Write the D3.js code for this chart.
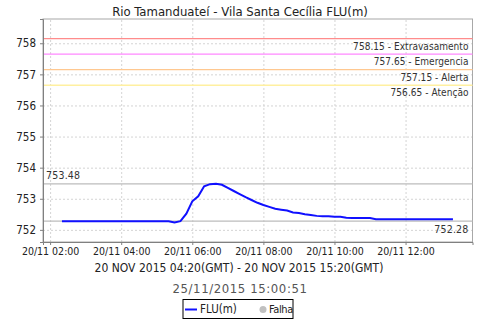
<!DOCTYPE html>
<meta charset="utf-8" />
<head>
  <style>
    body {
      margin: 0;
      background: #fff;
    }
    svg text {
      font-family: "DejaVu Sans Condensed", "DejaVu Sans", sans-serif;
    }
    .grid line {
      stroke: #d4d4d4;
      stroke-dasharray: 2, 2;
    }
    .grid .domain {
      display: none;
    }
  </style>
</head>
<script src="https://d3js.org/d3.v7.min.js"></script>
<body>
  <div id="chart"></div>
  <script>
    // FLU(m) readings every 10 minutes, local time on 20/11/2015
    const times = [
      "02:20", "02:30", "02:40", "02:50", "03:00", "03:10", "03:20", "03:30",
      "03:40", "03:50", "04:00", "04:10", "04:20", "04:30", "04:40", "04:50",
      "05:00", "05:10", "05:20", "05:30", "05:40", "05:50", "06:00", "06:10",
      "06:20", "06:30", "06:40", "06:50", "07:00", "07:10", "07:20", "07:30",
      "07:40", "07:50", "08:00", "08:10", "08:20", "08:30", "08:40", "08:50",
      "09:00", "09:10", "09:20", "09:30", "09:40", "09:50", "10:00", "10:10",
      "10:20", "10:30", "10:40", "10:50", "11:00", "11:10", "11:20", "11:30",
      "11:40", "11:50", "12:00", "12:10", "12:20", "12:30", "12:40", "12:50",
      "13:00", "13:10", "13:20",
    ];
    const levels = [
      752.28, 752.28, 752.28, 752.28, 752.28, 752.28, 752.28, 752.28,
      752.28, 752.28, 752.28, 752.28, 752.28, 752.28, 752.28, 752.28,
      752.28, 752.28, 752.28, 752.24, 752.28, 752.52, 752.92, 753.08,
      753.40, 753.47, 753.48, 753.45, 753.35, 753.25, 753.15, 753.05,
      752.96, 752.87, 752.80, 752.74, 752.68, 752.65, 752.62, 752.56,
      752.54, 752.50, 752.48, 752.45, 752.44, 752.44, 752.42, 752.42,
      752.39, 752.38, 752.38, 752.38, 752.38, 752.34, 752.34, 752.34,
      752.34, 752.34, 752.34, 752.34, 752.34, 752.34, 752.34, 752.34,
      752.34, 752.34, 752.34,
    ];

    // alert thresholds
    const thresholdValues = [758.15, 757.65, 757.15, 756.65];
    const thresholdNames = ["Extravasamento", "Emergencia", "Alerta", "Atenção"];
    const thresholdColors = ["#ff8c8c", "#ff88ff", "#ffc890", "#fff0a0"];

    // max / min markers
    const maxMark = 753.48;
    const minMark = 752.28;

    const yTicks = [752, 753, 754, 755, 756, 757, 758];

    const title = "Rio Tamanduateí - Vila Santa Cecília FLU(m)";
    const subtitle = "20 NOV 2015 04:20(GMT) - 20 NOV 2015 15:20(GMT)";
    const stamp = "25/11/2015 15:00:51";

    ////////////////////////////////////
    ///////////// SVG Setup ////////////
    ////////////////////////////////////

    const svgWidth = 480;
    const svgHeight = 320;
    const plot = { left: 43, right: 472.5, top: 19, bottom: 242 };

    const svg = d3
      .select("#chart")
      .append("svg")
      .attr("width", svgWidth)
      .attr("height", svgHeight);

    const parse = d3.timeParse("%Y-%m-%d %H:%M");
    const day = (t) => parse("2015-11-20 " + t);
    const data = times.map((t, i) => ({ date: day(t), value: levels[i] }));

    ////////////////////////////////////
    ///////////// Scales ///////////////
    ////////////////////////////////////

    const x = d3
      .scaleTime()
      .domain([day("01:48"), day("13:53")])
      .range([plot.left, plot.right]);

    const y = d3
      .scaleLinear()
      .domain([751.61, 758.78])
      .range([plot.bottom, plot.top]);

    const xTickValues = d3.timeHour.every(2).range(day("01:48"), day("13:53"));

    // gridlines
    svg
      .append("g")
      .attr("class", "grid")
      .attr("transform", `translate(0,${plot.bottom})`)
      .call(
        d3
          .axisBottom(x)
          .tickValues(xTickValues)
          .tickSize(-(plot.bottom - plot.top))
          .tickFormat("")
      );
    svg
      .append("g")
      .attr("class", "grid")
      .attr("transform", `translate(${plot.left},0)`)
      .call(
        d3
          .axisLeft(y)
          .tickValues(yTicks)
          .tickSize(-(plot.right - plot.left))
          .tickFormat("")
      );

    // plot border
    svg
      .append("rect")
      .attr("x", plot.left)
      .attr("y", plot.top)
      .attr("width", plot.right - plot.left)
      .attr("height", plot.bottom - plot.top)
      .attr("fill", "none")
      .attr("stroke", "#a8a8a8");

    ////////////////////////////////////
    ////////// Threshold lines /////////
    ////////////////////////////////////

    thresholdValues.forEach((v, i) => {
      svg
        .append("line")
        .attr("x1", plot.left)
        .attr("x2", plot.right)
        .attr("y1", y(v))
        .attr("y2", y(v))
        .attr("stroke", thresholdColors[i])
        .attr("stroke-width", 1.3);
      svg
        .append("text")
        .attr("x", plot.right - 4)
        .attr("y", y(v) + 8)
        .attr("text-anchor", "end")
        .attr("dominant-baseline", "middle")
        .attr("font-size", "10px")
        .attr("letter-spacing", "0.05px")
        .attr("fill", "#333")
        .text(d3.format(".2f")(v) + " - " + thresholdNames[i]);
    });

    // max & min marker lines
    [maxMark, minMark].forEach((v) => {
      svg
        .append("line")
        .attr("x1", plot.left)
        .attr("x2", plot.right)
        .attr("y1", y(v))
        .attr("y2", y(v))
        .attr("stroke", "#bcbcbc")
        .attr("stroke-width", 1.2);
    });
    svg
      .append("text")
      .attr("x", plot.left + 3)
      .attr("y", y(maxMark) - 8)
      .attr("dominant-baseline", "middle")
      .attr("font-size", "10.5px")
      .attr("letter-spacing", "0.2px")
      .attr("fill", "#333")
      .text(d3.format(".2f")(maxMark));
    svg
      .append("text")
      .attr("x", plot.right - 4)
      .attr("y", y(minMark) + 9)
      .attr("text-anchor", "end")
      .attr("dominant-baseline", "middle")
      .attr("font-size", "10.5px")
      .attr("letter-spacing", "0.2px")
      .attr("fill", "#333")
      .text(d3.format(".2f")(minMark));

    ////////////////////////////////////
    ///////////// Axes /////////////////
    ////////////////////////////////////

    const yAxis = svg
      .append("g")
      .attr("transform", `translate(${plot.left},0)`)
      .call(d3.axisLeft(y).tickValues(yTicks).tickSize(3).tickPadding(4));
    const xAxis = svg
      .append("g")
      .attr("transform", `translate(0,${plot.bottom})`)
      .call(
        d3
          .axisBottom(x)
          .tickValues(xTickValues)
          .tickSize(3)
          .tickPadding(3)
          .tickFormat(d3.timeFormat("%d/%m %H:%M"))
      );
    [yAxis, xAxis].forEach((ax) => {
      ax.select(".domain").attr("stroke", "#808080");
      ax.selectAll(".tick line").attr("stroke", "#808080");
      ax.selectAll(".tick text")
        .attr("fill", "#222")
        .style("font-family", "'DejaVu Sans Condensed', sans-serif")
        .attr("font-size", "10.5px");
    });
    yAxis.selectAll(".tick text").attr("font-size", "11.5px");

    ////////////////////////////////////
    ///////////// Draw line ////////////
    ////////////////////////////////////

    const line = d3
      .line()
      .x((d) => x(d.date))
      .y((d) => y(d.value));

    svg
      .append("path")
      .datum(data)
      .attr("d", line)
      .attr("fill", "none")
      .attr("stroke", "#1010ff")
      .attr("stroke-width", 2);

    ////////////////////////////////////
    ///////////// Peripherals //////////
    ////////////////////////////////////

    svg
      .append("text")
      .attr("x", 240)
      .attr("y", 12)
      .attr("text-anchor", "middle")
      .attr("dominant-baseline", "middle")
      .attr("font-size", "13px")
      .attr("fill", "#222")
      .text(title);

    svg
      .append("text")
      .attr("x", 239)
      .attr("y", 268)
      .attr("text-anchor", "middle")
      .attr("dominant-baseline", "middle")
      .attr("font-size", "12px")
      .attr("fill", "#222")
      .text(subtitle);

    svg
      .append("text")
      .attr("x", 240)
      .attr("y", 289)
      .attr("text-anchor", "middle")
      .attr("dominant-baseline", "middle")
      .attr("font-size", "13px")
      .attr("letter-spacing", "0.6px")
      .attr("fill", "#555")
      .text(stamp);

    // legend
    const legend = svg.append("g");
    legend
      .append("rect")
      .attr("x", 183)
      .attr("y", 299.5)
      .attr("width", 110)
      .attr("height", 19)
      .attr("fill", "#fff")
      .attr("stroke", "#000");
    legend
      .append("line")
      .attr("x1", 185)
      .attr("x2", 197)
      .attr("y1", 309.5)
      .attr("y2", 309.5)
      .attr("stroke", "#1010ff")
      .attr("stroke-width", 2);
    legend
      .append("text")
      .attr("x", 200)
      .attr("y", 309.5)
      .attr("dominant-baseline", "middle")
      .attr("font-size", "11.5px")
      .attr("fill", "#222")
      .text("FLU(m)");
    legend
      .append("circle")
      .attr("cx", 263)
      .attr("cy", 309.5)
      .attr("r", 3.5)
      .attr("fill", "#c0c0c0");
    legend
      .append("text")
      .attr("x", 269)
      .attr("y", 309.5)
      .attr("dominant-baseline", "middle")
      .attr("font-size", "11px")
      .attr("letter-spacing", "-0.4px")
      .attr("fill", "#222")
      .text("Falha");
  </script>
</body>
